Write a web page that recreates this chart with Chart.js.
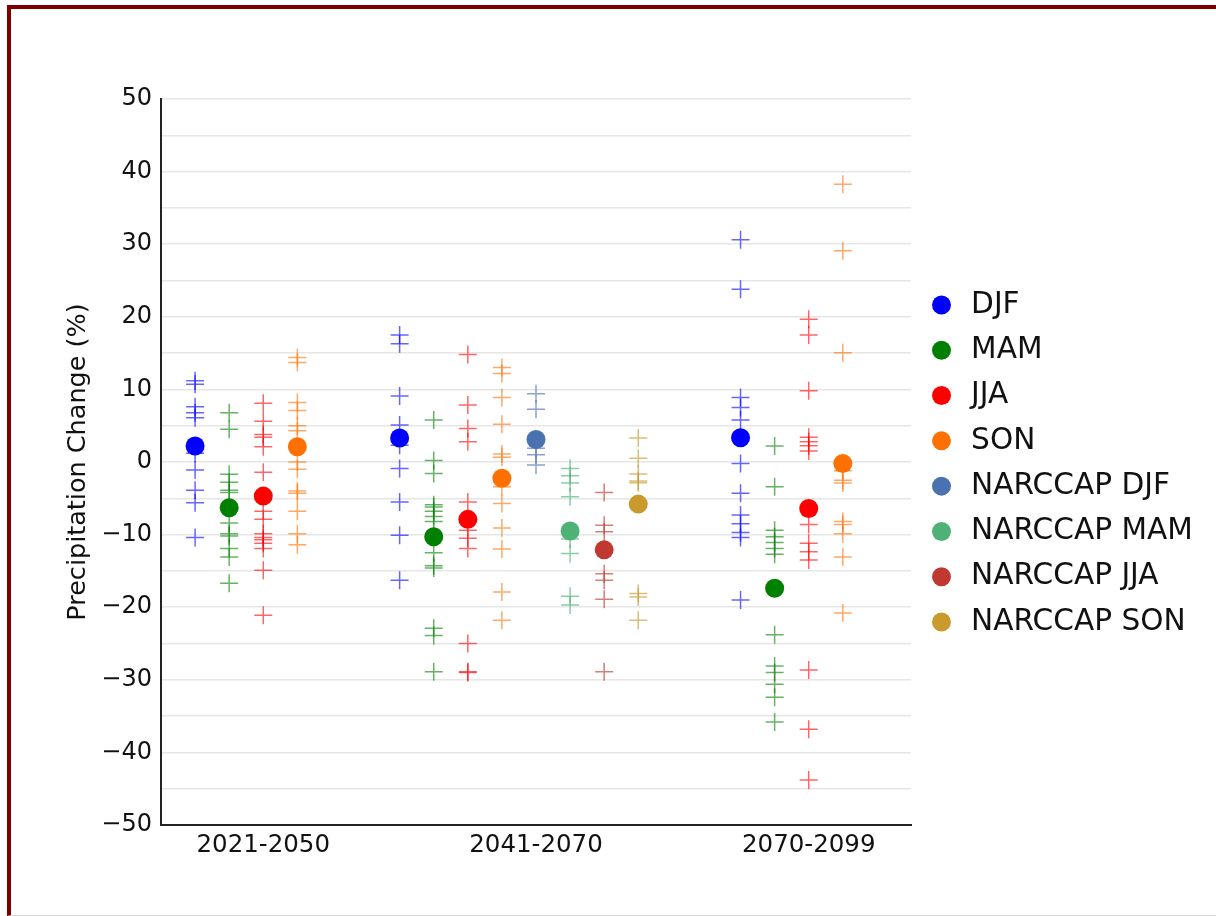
<!DOCTYPE html>
<html>
<head>
<meta charset="utf-8">
<script src="https://cdn.jsdelivr.net/npm/chart.js@4.4.0/dist/chart.umd.min.js"></script>
<style>
  html, body { margin: 0; padding: 0; background: #ffffff; overflow: hidden; }
  #frame { position: absolute; left: 7px; top: 5px; right: 0; bottom: 0;
           border-top: 4px solid #7d0000; border-left: 4px solid #7d0000;
           border-bottom: 1px solid #d6d6d6; }
  #c { position: absolute; left: 0; top: 0; }
</style>
</head>
<body>
<div id="frame"></div>
<canvas id="c" width="1216" height="916"></canvas>
<script>
// ---- data ----
const periods = ['2021-2050', '2041-2070', '2070-2099'];
const seasons = ['DJF', 'MAM', 'JJA', 'SON'];
const narccapSeasons = ['NARCCAP DJF', 'NARCCAP MAM', 'NARCCAP JJA', 'NARCCAP SON'];

// individual model changes (%)
const DJF_2021 = [11.2, 10.7, 7.6, 6.8, 6.1, 1.2, -1.1, -3.9, -5.6, -10.4];
const MAM_2021 = [6.8, 4.5, -1.7, -2.8, -3.9, -4.2, -8.4, -9.9, -10.2, -11.9, -13.1, -16.7];
const JJA_2021 = [8.1, 5.6, 3.8, 3.4, 2.1, -1.4, -6.8, -7.9, -9.9, -10.4, -10.7, -11.2, -11.9, -14.9, -21.1];
const SON_2021 = [14.4, 13.7, 8.2, 7.1, 5.0, 4.3, 0.0, -1.0, -4.0, -4.3, -6.8, -9.9, -11.4];

const DJF_2041 = [17.5, 16.3, 9.1, 5.1, 2.3, -0.9, -5.5, -10.1, -16.3];
const MAM_2041 = [5.8, 0.2, -1.6, -5.9, -6.2, -6.8, -7.5, -8.2, -12.5, -14.3, -14.6, -22.9, -23.9, -28.9];
const JJA_2041 = [14.8, 7.85, 4.6, 2.8, -5.5, -9.4, -10.5, -11.9, -25.0, -28.9, -29.0];
const SON_2041 = [13.0, 12.2, 8.9, 5.2, 1.1, 0.65, -3.4, -5.7, -9.1, -12.0, -17.9, -21.8];
const NDJF_2041 = [9.4, 7.25, 1.9, 1.0, -0.4];
const NMAM_2041 = [-0.9, -1.9, -2.9, -4.8, -10.6, -12.6, -18.5, -19.7];
const NJJA_2041 = [-4.2, -8.7, -9.6, -15.4, -16.3, -18.9, -28.9];
const NSON_2041 = [3.3, 0.5, -1.65, -2.6, -2.85, -18.1, -18.6, -21.8];

const DJF_2070 = [30.6, 23.8, 8.9, 7.5, 5.8, -0.2, -4.3, -7.3, -8.5, -9.7, -10.4, -19.0];
const MAM_2070 = [2.2, -3.4, -9.4, -10.3, -11.1, -11.9, -12.7, -23.8, -28.1, -29.0, -30.6, -32.4, -35.8];
const JJA_2070 = [19.65, 17.5, 9.8, 3.4, 2.8, 2.25, 1.5, -8.6, -11.2, -12.35, -13.5, -28.65, -36.8, -43.8];
const SON_2070 = [38.25, 29.1, 15.05, -1.2, -2.5, -2.9, -8.2, -8.6, -9.9, -13.1, -20.8];

// ensemble means (%)
const DJF_MEAN = [2.2, 3.3, 3.35];
const MAM_MEAN = [-6.3, -10.3, -17.4];
const JJA_MEAN = [-4.7, -7.9, -6.4];
const SON_MEAN = [2.1, -2.25, -0.2];
const NARCCAP_MEAN = [3.1, -9.5, -12.1, -5.8];   // 2041-2070 only

// ---- layout of slots on the x axis ----
const groupStart = [0, 6, 16];       // first slot of each period
const periodTick = [2, 10, 18];      // where period labels sit
const models = {
  DJF: [DJF_2021, DJF_2041, DJF_2070],
  MAM: [MAM_2021, MAM_2041, MAM_2070],
  JJA: [JJA_2021, JJA_2041, JJA_2070],
  SON: [SON_2021, SON_2041, SON_2070]
};
const narccapModels = [NDJF_2041, NMAM_2041, NJJA_2041, NSON_2041];
const means = { DJF: DJF_MEAN, MAM: MAM_MEAN, JJA: JJA_MEAN, SON: SON_MEAN };

const seasonColor = { DJF: [0, 0, 255], MAM: [0, 128, 0], JJA: [255, 0, 0], SON: [255, 112, 0] };
const narccapColor = [[74, 114, 176], [78, 178, 118], [192, 57, 48], [201, 154, 44]];
const rgb = (c, a) => a === undefined ? `rgb(${c[0]},${c[1]},${c[2]})` : `rgba(${c[0]},${c[1]},${c[2]},${a})`;

const meanSets = [];
const crossSets = [];
seasons.forEach((s, si) => {
  meanSets.push({
    label: s,
    data: means[s].map((v, p) => ({ x: groupStart[p] + si, y: v })),
    pointStyle: 'circle', pointRadius: 9.5, backgroundColor: rgb(seasonColor[s]),
    borderColor: rgb(seasonColor[s]), borderWidth: 0, showLine: false
  });
});
narccapSeasons.forEach((s, si) => {
  meanSets.push({
    label: s,
    data: [{ x: groupStart[1] + 4 + si, y: NARCCAP_MEAN[si] }],
    pointStyle: 'circle', pointRadius: 9.5, backgroundColor: rgb(narccapColor[si]),
    borderColor: rgb(narccapColor[si]), borderWidth: 0, showLine: false
  });
});
seasons.forEach((s, si) => {
  const pts = [];
  models[s].forEach((arr, p) => arr.forEach(v => pts.push({ x: groupStart[p] + si, y: v })));
  crossSets.push({
    label: s + ' models', data: pts, pointStyle: 'cross', pointRadius: 9,
    borderColor: rgb(seasonColor[s], 0.6), backgroundColor: rgb(seasonColor[s], 0.6),
    borderWidth: 1.5, showLine: false
  });
});
narccapSeasons.forEach((s, si) => {
  crossSets.push({
    label: s + ' models', data: narccapModels[si].map(v => ({ x: groupStart[1] + 4 + si, y: v })),
    pointStyle: 'cross', pointRadius: 9,
    borderColor: rgb(narccapColor[si], 0.65), backgroundColor: rgb(narccapColor[si], 0.65),
    borderWidth: 1.5, showLine: false
  });
});

// shift the right-hand legend so it is centred on the plot area, as in the reference
const legendShift = {
  id: 'legendShift',
  afterLayout(chart) {
    const lg = chart.legend;
    if (!lg) return;
    const d = -18.5;
    lg.top += d; lg.bottom += d;
  }
};

const FONT = 'DejaVu Sans';
new Chart(document.getElementById('c'), {
  type: 'scatter',
  data: { datasets: meanSets.concat(crossSets) },
  plugins: [legendShift],
  options: {
    responsive: false,
    animation: false,
    events: [],
    layout: { padding: { left: 59, top: 99, right: 21, bottom: 51 } },
    plugins: {
      tooltip: { enabled: false },
      legend: {
        position: 'right',
        labels: {
          usePointStyle: true, boxWidth: 29.6, boxHeight: 13.4, padding: 15.7,
          color: '#111', font: { family: FONT, size: 29.6 },
          filter: (item) => item.datasetIndex < meanSets.length
        }
      }
    },
    scales: {
      x: {
        type: 'linear', min: -1, max: 21,
        afterBuildTicks: (sc) => { sc.ticks = periodTick.map(v => ({ value: v })); },
        afterFit: (sc) => { sc.height = 40; },
        ticks: {
          color: '#111', padding: 6, font: { family: FONT, size: 24.5 },
          callback: (v) => { const i = periodTick.indexOf(v); return i >= 0 ? periods[i] : ''; }
        },
        grid: { display: false, drawTicks: false },
        border: { display: true, color: '#222', width: 2 }
      },
      y: {
        type: 'linear', min: -50, max: 50,
        afterFit: (sc) => { sc.width = 102; },
        ticks: {
          stepSize: 5, color: '#111', padding: 9, font: { family: FONT, size: 24 },
          callback: (v) => (v % 10 === 0 ? (v < 0 ? '\u2212' + Math.abs(v) : String(v)) : '')
        },
        grid: { color: '#e6e6e6', lineWidth: 1.5, drawTicks: false },
        border: { display: true, color: '#222', width: 2 },
        title: {
          display: true, text: 'Precipitation Change (%)', color: '#111',
          font: { family: FONT, size: 25.5 }, padding: { top: 4, bottom: 4 }
        }
      }
    }
  }
});
</script>
</body>
</html>
